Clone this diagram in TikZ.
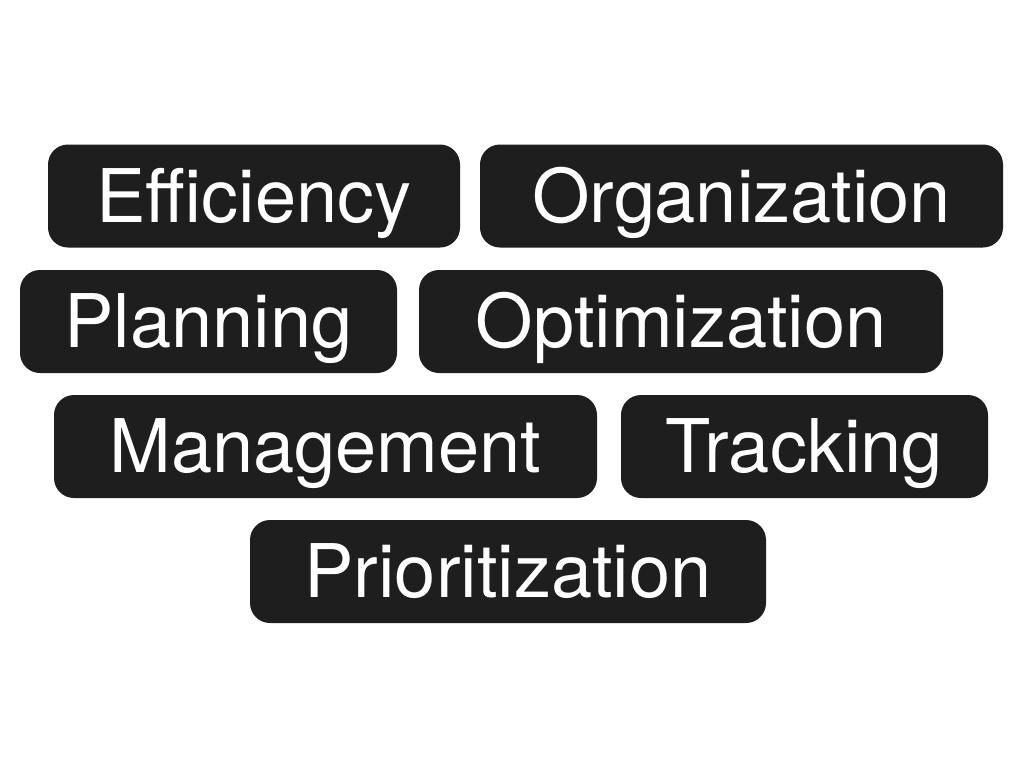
\documentclass[tikz,border=0pt]{standalone}
\usepackage{fontspec}
\setmainfont{TeX Gyre Heros}
\definecolor{tagfill}{HTML}{1E1E1F}
\begin{document}
\begin{tikzpicture}[x=1pt,y=-1pt,
  tag/.style={fill=tagfill, draw=none, rounded corners=20pt, text=white,
    inner sep=0pt, minimum height=103pt, text height=52pt, text depth=0pt,
    font=\fontsize{74}{88}\selectfont}]
\useasboundingbox[fill=white] (0,0) rectangle (1024,768);
\node[tag, minimum width=412pt] (eff) at (254,196) {Efficiency};
\node[tag, minimum width=523pt] (org) at (741.5,196) {Organization};
\node[tag, minimum width=377pt] (pla) at (208.5,321.5) {Planning};
\node[tag, minimum width=524pt] (opt) at (681,321.5) {Optimization};
\node[tag, minimum width=543pt] (man) at (325.5,446.5) {Management};
\node[tag, minimum width=367pt] (tra) at (804.5,446.5) {Tracking};
\node[tag, minimum width=516pt] (pri) at (508,571.5) {Prioritization};
\end{tikzpicture}
\end{document}
